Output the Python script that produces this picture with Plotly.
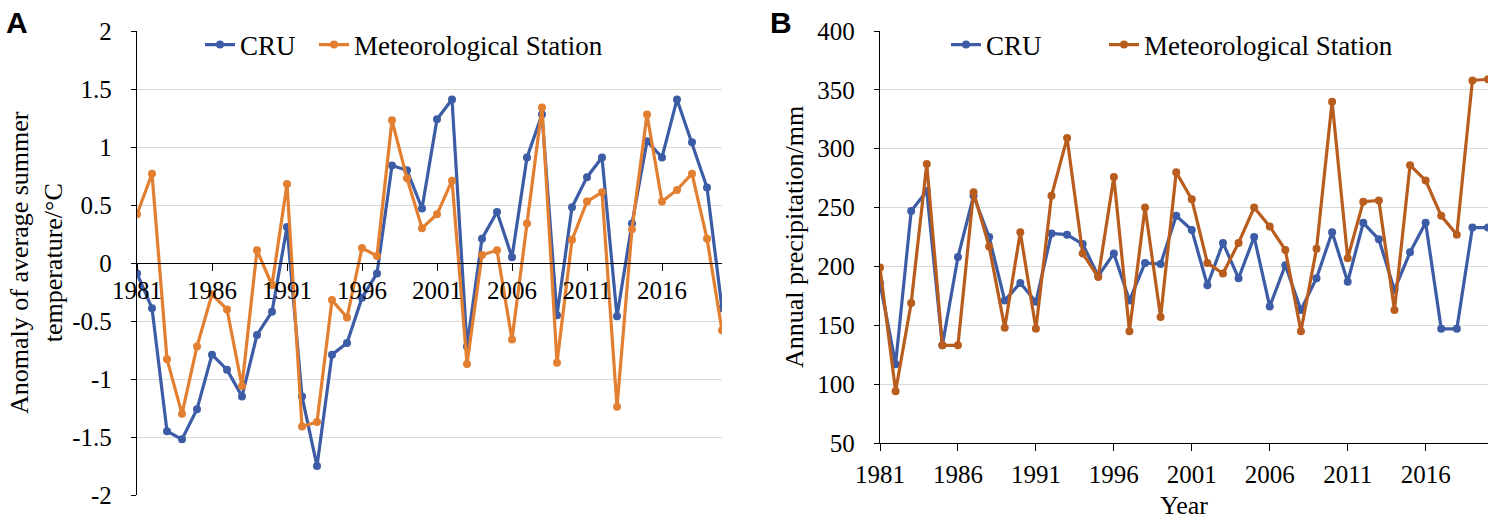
import plotly.graph_objects as go

years = list(range(1981, 2021))

# Panel A: anomaly of average summer temperature (°C)
temp_cru = [-0.09, -0.39, -1.45, -1.52, -1.26, -0.79, -0.92, -1.15, -0.62, -0.42,
            0.31, -1.15, -1.75, -0.79, -0.69, -0.30, -0.09, 0.84, 0.80, 0.47,
            1.24, 1.41, -0.72, 0.21, 0.44, 0.05, 0.91, 1.28, -0.45, 0.48,
            0.74, 0.91, -0.46, 0.34, 1.05, 0.91, 1.41, 1.04, 0.65, -0.39]
temp_station = [0.42, 0.77, -0.83, -1.30, -0.72, -0.27, -0.40, -1.06, 0.11, -0.19,
                0.68, -1.41, -1.37, -0.32, -0.47, 0.13, 0.06, 1.23, 0.73, 0.30,
                0.42, 0.71, -0.87, 0.07, 0.11, -0.66, 0.34, 1.34, -0.86, 0.20,
                0.53, 0.61, -1.24, 0.29, 1.28, 0.53, 0.63, 0.77, 0.21, -0.58]

# Panel B: annual precipitation (mm)
prec_cru = [186, 117, 247, 264, 133, 208, 260, 225, 171, 186,
            170, 228, 227, 219, 192, 211, 171, 203, 202, 243,
            231, 184, 220, 190, 225, 166, 201, 163, 190, 229,
            187, 237, 223, 180, 212, 237, 147, 147, 233, 233]
prec_station = [199, 94, 169, 287, 133, 133, 263, 217, 148, 229,
                147, 260, 309, 211, 191, 276, 145, 250, 157, 280,
                257, 203, 194, 220, 250, 234, 214, 145, 215, 340,
                207, 255, 256, 163, 286, 273, 243, 227, 358, 359]

a_ticks = [2, 1.5, 1, 0.5, 0, -0.5, -1, -1.5, -2]
a_ticktext = ["2", "1.5", "1", "0.5", "0", "-0.5", "-1", "-1.5", "-2"]
b_ticks = [50, 100, 150, 200, 250, 300, 350, 400]
x_ticks = list(range(1981, 2020, 5))

BLUE = "#3D5CA6"
ORANGE_A = "#E37F30"
ORANGE_B = "#B95D1F"
SERIF = "Liberation Serif"
W, H = 1500, 520

def px_x(p):
    return p / W

def px_y(p):
    return 1 - p / H

def series(x, y, name, color, xa, ya, lg):
    return go.Scatter(x=x, y=y, name=name, mode="lines+markers",
                      line=dict(color=color, width=3.2),
                      marker=dict(size=8, color=color),
                      xaxis=xa, yaxis=ya, legend=lg)

fig = go.Figure()
fig.add_trace(series(years, temp_cru, "CRU", BLUE, "x", "y", "legend"))
fig.add_trace(series(years, temp_station, "Meteorological Station", ORANGE_A, "x", "y", "legend2"))
fig.add_trace(series(years, prec_cru, "CRU", BLUE, "x2", "y2", "legend3"))
fig.add_trace(series(years, prec_station, "Meteorological Station", ORANGE_B, "x2", "y2", "legend4"))

a_dom_x = [px_x(137), px_x(722)]
a_dom_y = [px_y(495), px_y(31)]
b_dom_x = [px_x(880), px_x(1488)]
b_dom_y = [px_y(443), px_y(31)]

tickfont = dict(family=SERIF, size=25, color="#000000")
legfont = dict(family=SERIF, size=27, color="#000000")

def leg(xpx):
    return dict(orientation="h", x=px_x(xpx), y=px_y(45), xanchor="left", yanchor="middle",
                font=legfont, bgcolor="rgba(0,0,0,0)", itemwidth=30)

fig.update_layout(
    width=W, height=H,
    margin=dict(l=0, r=0, t=0, b=0, autoexpand=False),
    paper_bgcolor="white", plot_bgcolor="white",
    font=dict(family=SERIF, color="#000000"),
    xaxis=dict(domain=a_dom_x, range=[1981, 2020], anchor="free",
               position=(a_dom_y[0] + a_dom_y[1]) / 2, automargin=False,
               tickvals=x_ticks, ticks="outside", ticklen=7, tickcolor="#000",
               showline=True, linecolor="#000", linewidth=1.3, showgrid=False,
               zeroline=False, tickfont=tickfont, ticklabelstandoff=-2),
    yaxis=dict(domain=a_dom_y, range=[-2, 2], anchor="x", automargin=False,
               tickvals=a_ticks, ticktext=a_ticktext, ticks="outside", ticklen=5, tickcolor="#000",
               showline=True, linecolor="#000", linewidth=1.3,
               showgrid=True, gridcolor="#D9D9D9", gridwidth=1.3, zeroline=False,
               tickfont=tickfont, ticklabelstandoff=14),
    xaxis2=dict(domain=b_dom_x, range=[1981, 2020], anchor="y2", automargin=False,
                tickvals=x_ticks, ticks="outside", ticklen=7, tickcolor="#000",
                showline=True, linecolor="#000", linewidth=1.3, showgrid=False,
                zeroline=False, tickfont=tickfont, ticklabelstandoff=2),
    yaxis2=dict(domain=b_dom_y, range=[50, 400], anchor="x2", automargin=False,
                tickvals=b_ticks, ticks="outside", ticklen=5, tickcolor="#000",
                showline=True, linecolor="#000", linewidth=1.3,
                showgrid=True, gridcolor="#D9D9D9", gridwidth=1.3, zeroline=False,
                tickfont=tickfont, ticklabelstandoff=14),
    legend=leg(200),
    legend2=leg(314),
    legend3=leg(946),
    legend4=leg(1104),
    showlegend=True,
)

annotations = [
    dict(text="<b>A</b>", x=px_x(4), y=px_y(4), xanchor="left", yanchor="top",
         font=dict(family="Liberation Sans", size=30, color="#000")),
    dict(text="<b>B</b>", x=px_x(768), y=px_y(4), xanchor="left", yanchor="top",
         font=dict(family="Liberation Sans", size=30, color="#000")),
    dict(text="Anomaly of average summer<br>temperature/°C", x=px_x(36), y=px_y(263),
         xanchor="center", yanchor="middle", textangle=-90,
         font=dict(family=SERIF, size=26, color="#000")),
    dict(text="Annual precipitation/mm", x=px_x(795), y=px_y(237),
         xanchor="center", yanchor="middle", textangle=-90,
         font=dict(family=SERIF, size=26, color="#000")),
    dict(text="Year", x=px_x(1184), y=px_y(505),
         xanchor="center", yanchor="middle",
         font=dict(family=SERIF, size=26, color="#000")),
]
for a in annotations:
    a.update(xref="paper", yref="paper", showarrow=False)
fig.update_layout(annotations=annotations)

fig.write_html("out.html", config={"displayModeBar": False},
               post_script="document.body.style.margin='0px';document.body.style.overflow='hidden';")
